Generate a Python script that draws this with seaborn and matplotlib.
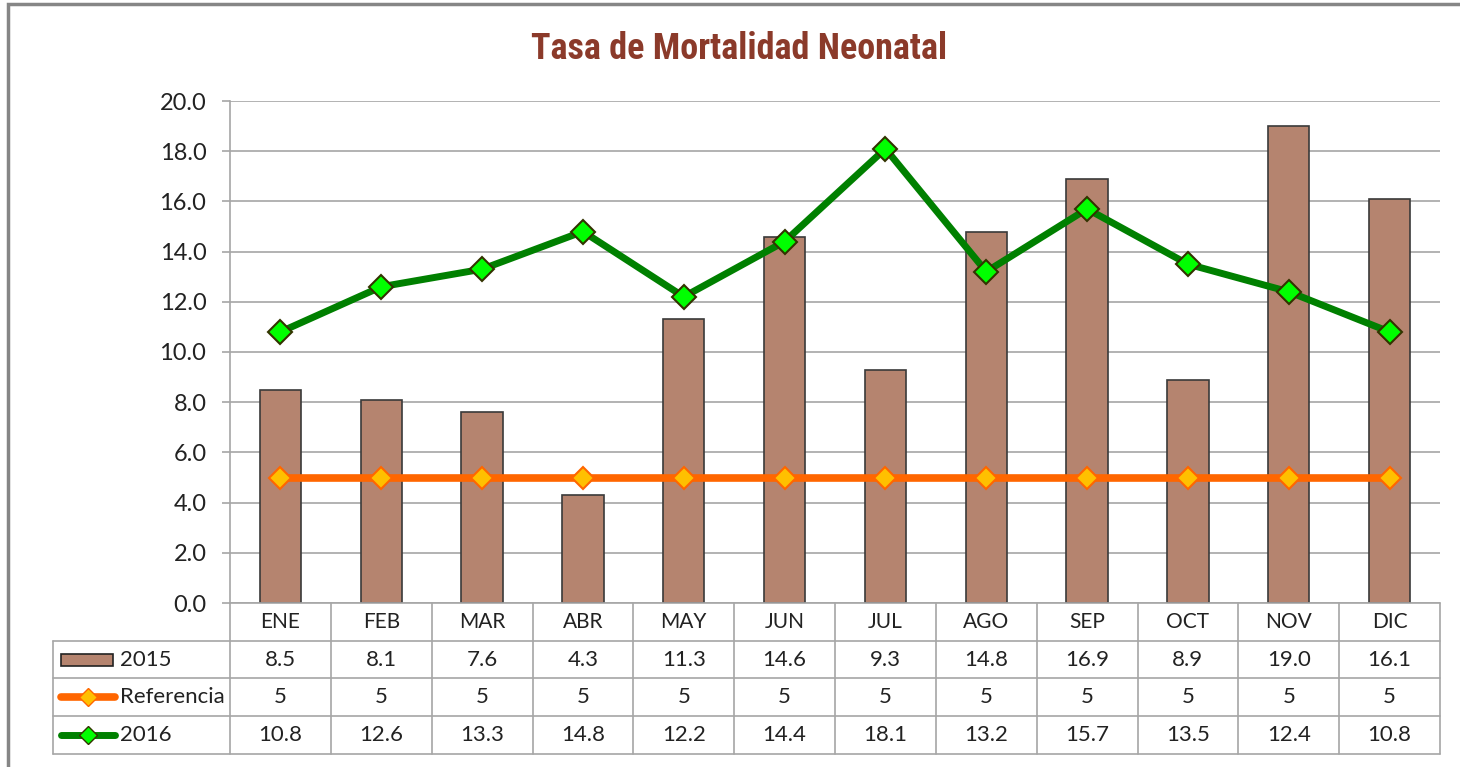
import numpy as np
import pandas as pd
import matplotlib
matplotlib.use("Agg")
import matplotlib.pyplot as plt
import seaborn as sns
from matplotlib.transforms import blended_transform_factory
from matplotlib.patches import Rectangle
from matplotlib.lines import Line2D
from matplotlib import font_manager

months = ["ENE", "FEB", "MAR", "ABR", "MAY", "JUN", "JUL", "AGO", "SEP", "OCT", "NOV", "DIC"]
v2015 = [8.5, 8.1, 7.6, 4.3, 11.3, 14.6, 9.3, 14.8, 16.9, 8.9, 19.0, 16.1]
vref = [5, 5, 5, 5, 5, 5, 5, 5, 5, 5, 5, 5]
v2016 = [10.8, 12.6, 13.3, 14.8, 12.2, 14.4, 18.1, 13.2, 15.7, 13.5, 12.4, 10.8]
yticks = [0, 2, 4, 6, 8, 10, 12, 14, 16, 18, 20]

sns.set_theme(style="white")
FONT = ["Lato", "DejaVu Sans"]
plt.rcParams["font.family"] = FONT

installed = {f.name for f in font_manager.fontManager.ttflist}
title_fams = [f for f in ["Roboto Condensed", "Liberation Sans Narrow", "Arial Narrow",
                          "Liberation Sans"] if f in installed] + ["DejaVu Sans"]
narrow = title_fams[0] in ("Roboto Condensed", "Liberation Sans Narrow", "Arial Narrow")

W, H = 1460, 767
fig = plt.figure(figsize=(W / 100, H / 100), dpi=100)
fig.patch.set_facecolor("white")

# outer chart frame
fig.add_artist(Rectangle((8 / W, -0.1), 1.2, (H - 4) / H + 0.1, transform=fig.transFigure,
                         fill=False, edgecolor="#868686", lw=2.5))

L, R, T, B = 230, 1440, 101, 603
ax = fig.add_axes([L / W, 1 - B / H, (R - L) / W, (B - T) / H])

x = np.arange(len(months))
df = pd.DataFrame({"mes": months, "v2015": v2015, "ref": vref, "v2016": v2016, "x": x})

sns.barplot(data=df, x="x", y="v2015", color="#B5846F", width=0.41, edgecolor="#3a3a3a",
            linewidth=1.2, saturation=1, ax=ax, zorder=2, native_scale=True)
for p in ax.patches:
    p.set_facecolor("#B5846F")

ref_style = dict(color="#FF6600", lw=5.5, marker="D", markersize=11,
                 markerfacecolor="#FFC000", markeredgecolor="#FF6600", markeredgewidth=1.5)
g16_style = dict(color="#008000", lw=5.0, marker="D", markersize=12,
                 markerfacecolor="#00FF00", markeredgecolor="#333300", markeredgewidth=1.5)
sns.lineplot(data=df, x="x", y="ref", ax=ax, zorder=3, **ref_style)
sns.lineplot(data=df, x="x", y="v2016", ax=ax, zorder=4, **g16_style)

ax.set_xlim(-0.5, len(months) - 0.5)
ax.set_ylim(0, 20)
ax.set_yticks(yticks)
ax.set_yticklabels([f"{v:.1f}" for v in yticks], fontsize=17, color="#222222")
ax.set_xticks([])
ax.set_xlabel("")
ax.set_ylabel("")
ax.grid(axis="y", color="#A6A6A6", lw=1.2, zorder=0)
ax.set_axisbelow(True)
for s in ["top", "right", "bottom"]:
    ax.spines[s].set_visible(False)
ax.spines["left"].set_color("#A6A6A6")
ax.spines["left"].set_linewidth(1.2)
ax.tick_params(axis="y", which="both", left=True, length=6, width=1.2, color="#A6A6A6", pad=11)

# title
fig.text(739 / W, 1 - 49 / H, "Tasa de Mortalidad Neonatal", ha="center", va="center",
         fontsize=26 if narrow else 21, fontweight="bold", color="#8B3A2A",
         family=title_fams)

# data table
tr = blended_transform_factory(ax.transData, ax.transAxes)
ah = B - T
rh = 37.7 / ah
header_bot = -rh
rows_bot = [-2 * rh, -3 * rh, -4 * rh]
cw = (R - L) / len(months)
def dx(px):
    return -0.5 + (px - L) / cw
left_x = dx(53)
lc = "#A6A6A6"
lw = 1.2
def hline(x0, x1, y):
    ax.add_line(Line2D([x0, x1], [y, y], transform=tr, color=lc, lw=lw, clip_on=False))
def vline(xv, y0, y1):
    ax.add_line(Line2D([xv, xv], [y0, y1], transform=tr, color=lc, lw=lw, clip_on=False))

hline(-0.5, len(months) - 0.5, 0)
hline(left_x, len(months) - 0.5, header_bot)
for yb in rows_bot:
    hline(left_x, len(months) - 0.5, yb)
for k in range(len(months) + 1):
    vline(-0.5 + k, 0, rows_bot[-1])
vline(left_x, header_bot, rows_bot[-1])

for i, m in enumerate(months):
    ax.text(i, -rh / 2, m, transform=tr, ha="center", va="center", fontsize=15, color="#222222")
series_rows = [(v2015, "2015", lambda v: f"{v:.1f}"),
               (vref, "Referencia", lambda v: f"{v}"),
               (v2016, "2016", lambda v: f"{v:.1f}")]
for r, (vals, name, fmt) in enumerate(series_rows):
    yc = -rh * (r + 1.5)
    for i, v in enumerate(vals):
        ax.text(i, yc, fmt(v), transform=tr, ha="center", va="center", fontsize=16, color="#222222")
    ax.text(dx(120), yc, name, transform=tr, ha="left", va="center",
            fontsize=16, color="#222222")

# legend keys
yc0 = -rh * 1.5
ax.add_patch(Rectangle((dx(61), yc0 - 6 / ah), dx(113) - dx(61), 12 / ah, transform=tr,
                       facecolor="#B5846F", edgecolor="#222222", lw=1.2, clip_on=False))
for r, st in [(1, ref_style), (2, g16_style)]:
    yc = -rh * (r + 1.5)
    ax.add_line(Line2D([dx(61), dx(115)], [yc, yc], transform=tr, clip_on=False,
                       color=st["color"], lw=st["lw"], solid_capstyle="round"))
    ax.add_line(Line2D([(dx(61) + dx(115)) / 2], [yc], transform=tr, clip_on=False,
                       ls="none", marker="D", markersize=9,
                       markerfacecolor=st["markerfacecolor"], markeredgecolor=st["markeredgecolor"]))

fig.savefig("out.png", dpi=100, facecolor="white")
